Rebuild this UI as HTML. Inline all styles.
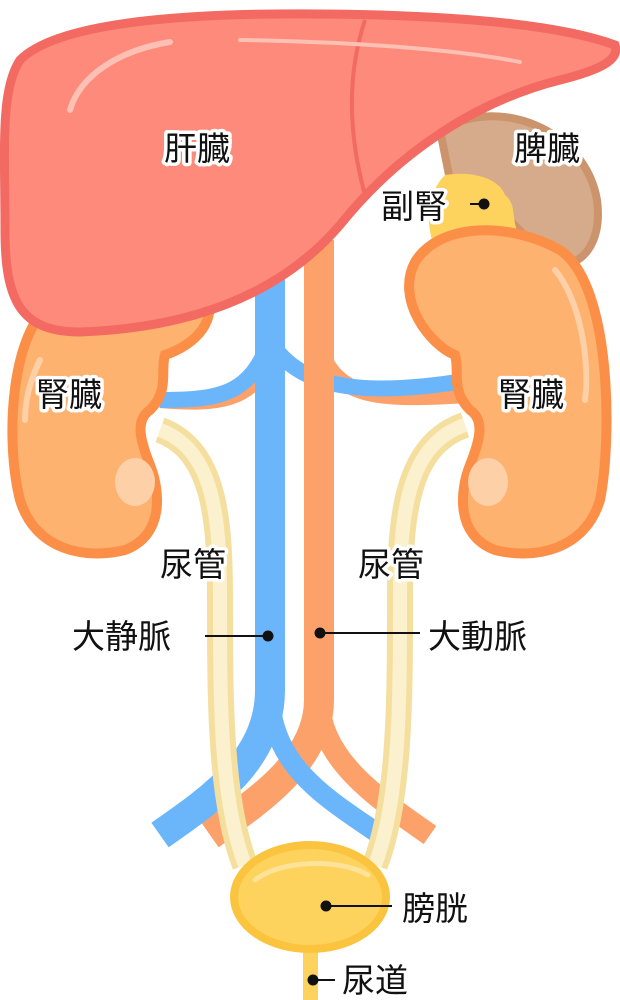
<!DOCTYPE html>
<html><head><meta charset="utf-8"><style>
html,body{margin:0;padding:0;background:#fff}
svg{display:block}
text{font-family:"Liberation Sans","Noto Sans CJK JP",sans-serif;font-size:33px;fill:#111;stroke:#fff;stroke-width:7px;paint-order:stroke;stroke-linejoin:round}
</style></head><body>
<svg width="620" height="1000" viewBox="0 0 620 1000" xmlns="http://www.w3.org/2000/svg">
<g fill="none" stroke-linecap="butt">
 <path d="M270 360 C250 400 220 405 160 400" stroke="#fca16a" stroke-width="16"/>
 <path d="M320 350 C340 400 380 400 470 395" stroke="#fca16a" stroke-width="16"/>
 <path d="M270 340 C250 395 220 400 160 400" stroke="#6bb5fb" stroke-width="16"/>
 <path d="M270 340 C300 395 380 395 470 380" stroke="#6bb5fb" stroke-width="16"/>
 <path d="M319 240 L319 700 C319 760 260 800 210 835" stroke="#fca16a" stroke-width="30"/>
 <path d="M319 700 C319 760 380 800 430 835" stroke="#fca16a" stroke-width="22"/>
 <path d="M270 260 L270 690 C270 760 210 800 160 835" stroke="#6bb5fb" stroke-width="30"/>
 <path d="M270 700 C275 770 330 800 380 835" stroke="#6bb5fb" stroke-width="20"/>
 <path d="M160 430 C215 450 220 520 220 600 C220 700 220 800 245 865" stroke="#f5df9f" stroke-width="26"/>
 <path d="M160 430 C215 450 220 520 220 600 C220 700 220 800 245 865" stroke="#fcf1cf" stroke-width="14"/>
 <path d="M465 425 C405 445 400 520 400 600 C400 700 400 800 375 865" stroke="#f5df9f" stroke-width="26"/>
 <path d="M465 425 C405 445 400 520 400 600 C400 700 400 800 375 865" stroke="#fcf1cf" stroke-width="14"/>
</g>
<!-- spleen -->
<path d="M440 130 C500 95 585 130 597 200 C603 245 580 268 555 265 C525 240 500 200 450 180 Z" fill="#d6ab8c" stroke="#cc946c" stroke-width="8"/>
<!-- adrenal -->
<path d="M445 175 C475 170 500 180 505 195 C518 205 510 222 520 235 L470 245 L432 240 C425 215 430 190 445 175 Z" fill="#fdd35d"/>
<!-- kidneys -->
<path d="M55 300 C10 330 5 440 20 500 C35 550 85 560 125 550 C165 535 160 490 150 465 C140 440 135 420 150 410 C170 390 160 370 165 355 C195 345 220 320 205 290 C170 280 100 280 55 300 Z" fill="#fdb26f" stroke="#fc8f47" stroke-width="10"/>
<path d="M560 250 C612 285 612 440 600 500 C585 550 535 560 495 550 C455 535 460 490 470 465 C480 440 485 420 470 410 C450 390 460 370 455 355 C430 345 395 300 415 262 C440 222 510 222 560 250 Z" fill="#fdb26f" stroke="#fc8f47" stroke-width="10"/>
<ellipse cx="135" cy="482" rx="20" ry="24" fill="#fdd0a8"/>
<ellipse cx="488" cy="482" rx="20" ry="24" fill="#fdd0a8"/>
<path d="M555 270 C580 300 590 360 585 400" fill="none" stroke="#fdd0a8" stroke-width="6" stroke-linecap="round"/>
<path d="M40 360 C30 380 25 400 25 420" fill="none" stroke="#fdd0a8" stroke-width="6" stroke-linecap="round"/>
<!-- liver -->
<path d="M20 60 C60 20 200 10 380 15 C470 18 560 25 615 45 C620 60 600 70 560 80 C480 100 400 150 340 225 C280 295 190 328 80 332 C20 332 5 300 5 230 C5 150 0 90 20 60 Z" fill="#fd8a7a" stroke="#f26a62" stroke-width="9"/>
<path d="M365 20 C345 80 350 140 365 195" fill="none" stroke="#f26a62" stroke-width="4"/>
<path d="M70 110 C80 75 120 50 170 42" fill="none" stroke="#fdc0b4" stroke-width="6" stroke-linecap="round"/>
<path d="M240 40 C360 42 460 50 520 62" fill="none" stroke="#fdc0b4" stroke-width="4" stroke-linecap="round"/>
<!-- bladder -->
<rect x="303" y="940" width="15" height="60" fill="#fdd35d"/>
<ellipse cx="310" cy="897" rx="76" ry="52" fill="#fdd35d" stroke="#fbc43f" stroke-width="8"/>
<path d="M255 880 C280 860 340 858 368 875" fill="none" stroke="#fde39a" stroke-width="5" stroke-linecap="round"/>
<g stroke="#111" stroke-width="2" fill="#111">
 <line x1="205" y1="636" x2="268" y2="636"/><circle cx="268" cy="636" r="4.5"/>
 <line x1="320" y1="633" x2="420" y2="633"/><circle cx="320" cy="633" r="4.5"/>
 <line x1="326" y1="906" x2="392" y2="906"/><circle cx="326" cy="906" r="4.5"/>
 <line x1="313" y1="980" x2="335" y2="980"/><circle cx="313" cy="980" r="4.5"/>
 <line x1="470" y1="204" x2="484" y2="204"/><circle cx="484" cy="204" r="4.5"/>
</g>
<text x="164" y="160">肝臓</text>
<text x="514" y="160">脾臓</text>
<text x="381" y="218">副腎</text>
<text x="36" y="406">腎臓</text>
<text x="498" y="406">腎臓</text>
<text x="160" y="576">尿管</text>
<text x="358" y="576">尿管</text>
<text x="72" y="648">大静脈</text>
<text x="428" y="648">大動脈</text>
<text x="402" y="920">膀胱</text>
<text x="342" y="992">尿道</text>
</svg>
</body></html>
